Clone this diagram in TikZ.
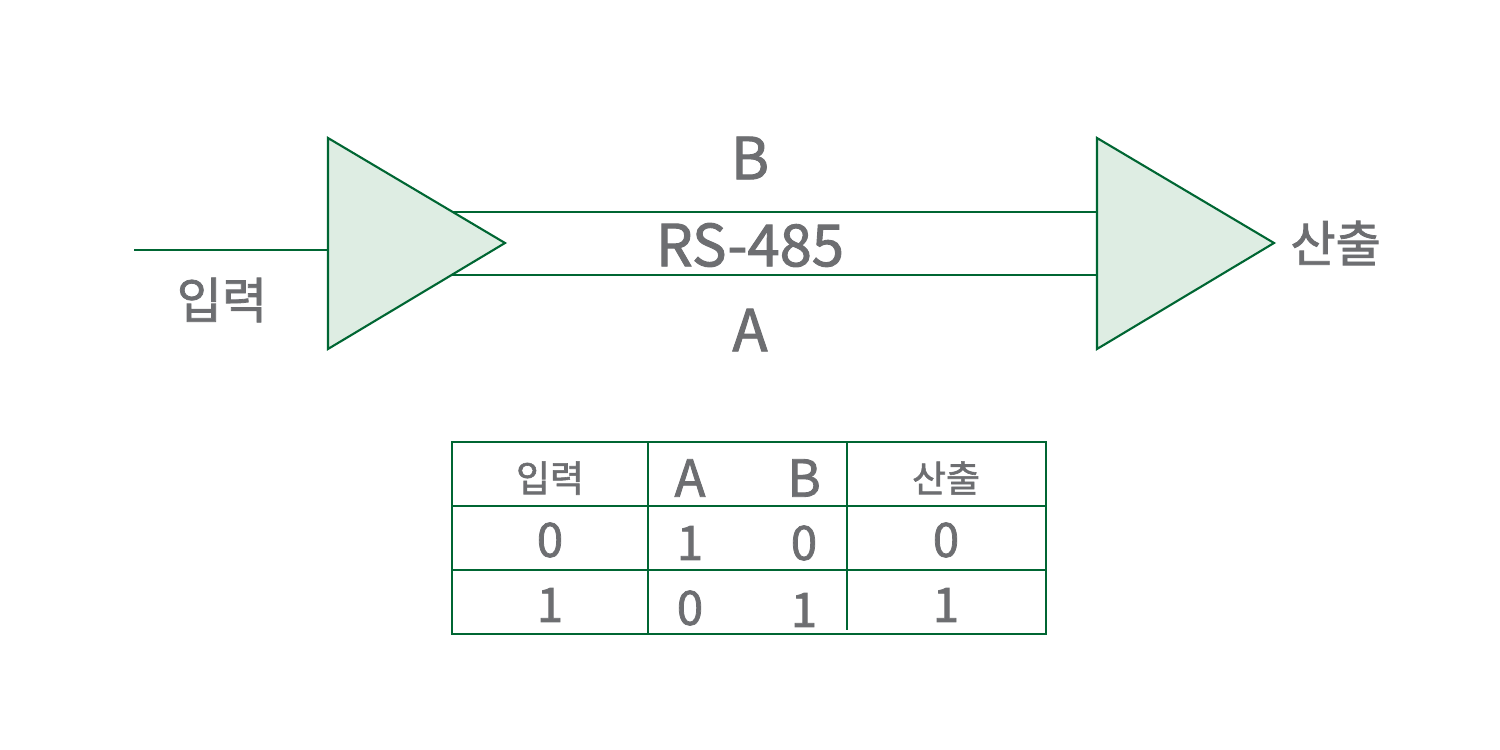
\documentclass[tikz,border=0pt]{standalone}
\usepackage{fontspec}
\setmainfont{Noto Sans CJK KR}[FakeBold=1.6]
\usetikzlibrary{positioning}
\definecolor{linegreen}{RGB}{0,102,51}
\definecolor{fillgreen}{RGB}{222,237,227}
\definecolor{textgray}{RGB}{109,110,113}

\begin{document}
\begin{tikzpicture}[x=0.02cm, y=-0.02cm,
        wire/.style = {draw=linegreen, line width=1.2pt},
        buffer/.style = {wire, fill=fillgreen, line join=miter},
        biglabel/.style = {text=textgray, inner sep=0pt, font=\fontsize{33}{36}\selectfont},
        cell/.style = {text=textgray, inner sep=0pt, font=\fontsize{27}{30}\selectfont},
        headcell/.style = {text=textgray, inner sep=0pt, font=\fontsize{21}{24}\selectfont}]
        \useasboundingbox (0, 0) rectangle (1500, 750);
        \coordinate (inStart) at (134, 250);
        \coordinate (inEnd) at (328, 250);
        \coordinate (bStart) at (453, 212);
        \coordinate (bEnd) at (1097, 212);
        \coordinate (aStart) at (452, 275);
        \coordinate (aEnd) at (1097, 275);
        \draw[wire] (inStart) -- (inEnd);
        \draw[wire] (bStart) -- (bEnd);
        \draw[wire] (aStart) -- (aEnd);
        \draw[buffer] (328, 138) coordinate (drvTop) -- (505, 243) coordinate (drvTip) -- (328, 349) coordinate (drvBot) -- cycle;
        \draw[buffer] (1097, 138) coordinate (rcvTop) -- (1274, 243) coordinate (rcvTip) -- (1097, 349) coordinate (rcvBot) -- cycle;
        \node[biglabel] (lineB) at (750, 158) {B};
        \node[biglabel] (bus) at (750, 245) {RS-485};
        \node[biglabel] (lineA) at (750, 330) {A};
        \node[biglabel, font=\fontsize{28}{32}\selectfont] (input) at (222, 300) {입력};
        \node[biglabel, font=\fontsize{28}{32}\selectfont, anchor=west] (output) at (1290, 243) {산출};
        % truth table
        \draw[wire] (452, 442) rectangle (1046, 634);
        \draw[wire] (648, 442) -- (648, 634);
        \draw[wire] (847, 442) -- (847, 630);
        \draw[wire] (452, 506) -- (1046, 506);
        \draw[wire] (452, 570) -- (1046, 570);
        \node[headcell] (hIn) at (550, 478) {입력};
        \node[cell, font=\fontsize{29}{32}\selectfont] (hA) at (690, 478) {A};
        \node[cell, font=\fontsize{29}{32}\selectfont] (hB) at (804, 478) {B};
        \node[headcell] (hOut) at (946, 478) {산출};
        \node[cell] (in0) at (550, 540) {0};
        \node[cell] (a0) at (690, 543) {1};
        \node[cell] (b0) at (804, 543) {0};
        \node[cell] (out0) at (946, 540) {0};
        \node[cell] (in1) at (550, 605) {1};
        \node[cell] (a1) at (690, 608) {0};
        \node[cell] (b1) at (804, 610) {1};
        \node[cell] (out1) at (946, 605) {1};
\end{tikzpicture}
\end{document}
